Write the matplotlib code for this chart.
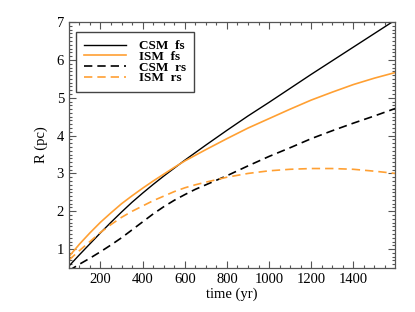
import matplotlib
matplotlib.use("Agg")
import matplotlib.pyplot as plt
from matplotlib.ticker import MultipleLocator

plt.rcParams['font.family'] = ['Liberation Serif', 'DejaVu Serif']
plt.rcParams['font.size'] = 10.5

# time axis (yr)
t = [50, 100, 150, 200, 250, 300, 350, 400, 450, 500, 550, 600, 650, 700,
     800, 900, 1000, 1100, 1200, 1300, 1400, 1500, 1600]

# radii (pc)
csm_fs = [0.55, 0.85, 1.14, 1.43, 1.71, 1.98, 2.24, 2.48, 2.71, 2.93, 3.14,
          3.35, 3.55, 3.75, 4.14, 4.52, 4.88, 5.25, 5.62, 5.98, 6.34, 6.7, 7.06]
ism_fs = [0.8, 1.13, 1.43, 1.71, 1.96, 2.2, 2.41, 2.61, 2.8, 2.98, 3.16,
          3.33, 3.48, 3.63, 3.92, 4.2, 4.45, 4.7, 4.94, 5.15, 5.35, 5.52, 5.67]
csm_rs = [0.43, 0.6, 0.76, 0.93, 1.11, 1.3, 1.51, 1.72, 1.93, 2.12, 2.29,
          2.44, 2.58, 2.7, 2.94, 3.2, 3.45, 3.68, 3.92, 4.13, 4.33, 4.52, 4.72]
ism_rs = [0.71, 0.96, 1.2, 1.44, 1.65, 1.84, 2.0, 2.14, 2.28, 2.4, 2.52,
          2.62, 2.7, 2.77, 2.9, 3.0, 3.07, 3.11, 3.13, 3.13, 3.11, 3.06, 3.0]

orange = '#ffa033'

fig = plt.figure(figsize=(4.15, 3.12), dpi=100)
ax = fig.add_axes([0.166, 0.141, 0.786, 0.788])

ax.plot(t, csm_fs, color='black', lw=1.0, label='CSM  fs')
ax.plot(t, ism_fs, color=orange, lw=1.2, label='ISM  fs')
ax.plot(t, csm_rs, color='black', lw=1.2, dashes=(5, 3), label='CSM  rs')
ax.plot(t, ism_rs, color=orange, lw=1.2, dashes=(5, 3), label='ISM  rs')

ax.set_xlim(50, 1598)
ax.set_ylim(0.5, 7.0)

ax.xaxis.set_major_locator(MultipleLocator(200))
ax.xaxis.set_minor_locator(MultipleLocator(50))
ax.yaxis.set_major_locator(MultipleLocator(1))
ax.yaxis.set_minor_locator(MultipleLocator(0.1))
ax.tick_params(which='both', direction='in', top=True, right=True,
               color='#555555', width=0.8, labelsize=10.5)
ax.tick_params(which='major', length=5)
ax.tick_params(which='minor', length=2.5)
for sp in ax.spines.values():
    sp.set_color('#555555')
    sp.set_linewidth(0.9)

ax.set_xlabel('time (yr)', labelpad=1)
ax.set_ylabel('R (pc)', labelpad=6)

leg = ax.legend(loc='upper left', bbox_to_anchor=(0.021, 0.959),
                borderaxespad=0, fancybox=False, framealpha=1,
                handlelength=3.2, handletextpad=1.0, labelspacing=-0.12,
                borderpad=0.6, prop={'weight': 'bold', 'size': 9.5})
leg.get_frame().set_edgecolor('#444444')
leg.get_frame().set_linewidth(1.0)

fig.savefig('out.png', dpi=100)
